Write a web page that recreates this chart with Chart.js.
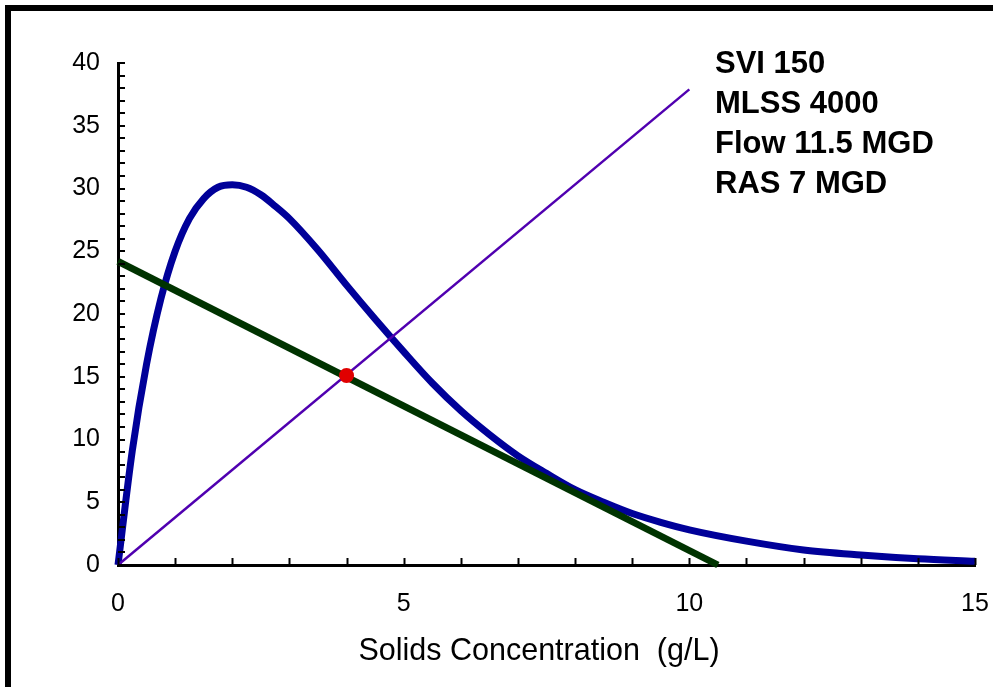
<!DOCTYPE html>
<html>
<head>
<meta charset="utf-8">
<script src="https://cdn.jsdelivr.net/npm/chart.js@4.4.1/dist/chart.umd.min.js"></script>
<style>
  html, body { margin: 0; padding: 0; background: #fff; overflow: hidden; }
  #wrap { position: relative; width: 993px; height: 687px; }
  #chart { position: absolute; left: 0; top: 0; }
  #frame {
    position: absolute; left: 5px; top: 5px; width: 1020px; height: 720px;
    border: 6px solid #000; pointer-events: none;
  }
</style>
</head>
<body>
<div id="wrap">
  <canvas id="chart" width="993" height="687"></canvas>
  <div id="frame"></div>
</div>
<script>
// solids flux curve
const fluxX = [0, 0.25, 0.5, 0.75, 1, 1.25, 1.5, 1.75, 2, 2.25, 2.5, 2.75, 3, 3.5, 4, 4.5, 5, 5.5, 6, 6.5, 7, 7.5, 8, 8.5, 9, 9.5, 10, 11, 12, 13, 14, 15];
const fluxY = [0, 9.1, 16.0, 21.2, 25.0, 27.6, 29.2, 30.1, 30.3, 30.1, 29.5, 28.6, 27.6, 25.1, 22.3, 19.6, 17.0, 14.5, 12.3, 10.4, 8.7, 7.3, 6.0, 5.0, 4.1, 3.4, 2.8, 1.9, 1.2, 0.8, 0.5, 0.3];

// underflow (RAS) operating line
const rasX = [0, 10.5];
const rasY = [24.2, 0];

// overflow line
const overX = [0, 10];
const overY = [0, 37.9];

// state point
const stateX = [4];
const stateY = [15.1];

const xTicks = [0, 5, 10, 15];
const yTicks = [0, 5, 10, 15, 20, 25, 30, 35, 40];

const xTitle = 'Solids Concentration  (g/L)';
const notes = ['SVI 150', 'MLSS 4000', 'Flow 11.5 MGD', 'RAS 7 MGD'];

const FONT = "'Liberation Sans', Arial, sans-serif";

function pts(xs, ys) {
  return xs.map((x, i) => ({ x, y: ys[i] }));
}

// small tick marks pointing into the plot, one per unit
const innerTicks = {
  id: 'innerTicks',
  afterDraw(chart) {
    const { ctx, chartArea, scales } = chart;
    ctx.save();
    ctx.strokeStyle = '#000';
    ctx.lineWidth = 2;
    scales.x.ticks.forEach((t) => {
      const px = Math.round(scales.x.getPixelForValue(t.value)) + 0.5;
      ctx.beginPath();
      ctx.moveTo(px, chartArea.bottom);
      ctx.lineTo(px, chartArea.bottom - 7);
      ctx.stroke();
    });
    scales.y.ticks.forEach((t) => {
      const py = Math.round(scales.y.getPixelForValue(t.value));
      ctx.beginPath();
      ctx.moveTo(chartArea.left, py);
      ctx.lineTo(chartArea.left + 7, py);
      ctx.stroke();
    });
    ctx.restore();
  },
};

// axis title and the run notes in the top right corner
const textPlugin = {
  id: 'texts',
  afterDraw(chart) {
    const { ctx } = chart;
    ctx.save();
    ctx.fillStyle = '#000';
    ctx.textBaseline = 'alphabetic';

    ctx.font = '30.5px ' + FONT;
    ctx.textAlign = 'center';
    ctx.fillText(xTitle, 539, 660);

    ctx.font = 'bold 31px ' + FONT;
    ctx.textAlign = 'left';
    notes.forEach((line, i) => {
      ctx.fillText(line, 715, 73 + i * 40);
    });
    ctx.restore();
  },
};

new Chart(document.getElementById('chart'), {
  type: 'scatter',
  data: {
    datasets: [
      {
        label: 'State point',
        data: pts(stateX, stateY),
        pointRadius: 7.5,
        pointBackgroundColor: '#e00000',
        pointBorderWidth: 0,
        showLine: false,
        order: 0,
      },
      {
        label: 'Overflow',
        data: pts(overX, overY),
        showLine: true,
        borderColor: '#5000b0',
        borderWidth: 2.5,
        pointRadius: 0,
        order: 1,
      },
      {
        label: 'Underflow',
        data: pts(rasX, rasY),
        showLine: true,
        borderColor: '#003300',
        borderWidth: 7,
        pointRadius: 0,
        order: 2,
      },
      {
        label: 'Solids flux',
        data: pts(fluxX, fluxY),
        showLine: true,
        borderColor: '#000099',
        borderWidth: 7,
        pointRadius: 0,
        cubicInterpolationMode: 'monotone',
        order: 3,
      },
    ],
  },
  options: {
    responsive: false,
    animation: false,
    devicePixelRatio: 1,
    clip: false,
    layout: { padding: { left: 0, top: 63, right: 18, bottom: 0 } },
    plugins: {
      legend: { display: false },
      tooltip: { enabled: false },
    },
    scales: {
      x: {
        type: 'linear',
        min: 0,
        max: 15,
        afterFit: (s) => {
          s.height = 122;
          s.paddingLeft = 0;
          s.paddingRight = 0;
        },
        afterBuildTicks: (s) => { s.ticks = Array.from({ length: 16 }, (_, i) => ({ value: i })); },
        grid: { display: false, drawTicks: false },
        border: { display: true, color: '#000', width: 3 },
        ticks: {
          padding: 24,
          color: '#000',
          font: { family: FONT, size: 25 },
          maxRotation: 0,
          autoSkip: false,
          callback: (v) => (xTicks.includes(v) ? v : ''),
        },
      },
      y: {
        min: 0,
        max: 40,
        afterFit: (s) => {
          s.width = 118;
          s.paddingTop = 0;
          s.paddingBottom = 0;
        },
        afterBuildTicks: (s) => { s.ticks = Array.from({ length: 41 }, (_, i) => ({ value: i })); },
        grid: { display: false, drawTicks: false },
        border: { display: true, color: '#000', width: 3 },
        ticks: {
          padding: 18,
          color: '#000',
          font: { family: FONT, size: 25 },
          autoSkip: false,
          callback: (v) => (yTicks.includes(v) ? v : ''),
        },
      },
    },
  },
  plugins: [innerTicks, textPlugin],
});
</script>
</body>
</html>
